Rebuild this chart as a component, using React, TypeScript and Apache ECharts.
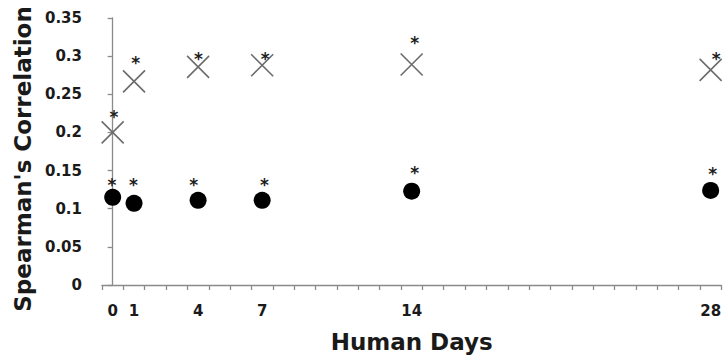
import React, { useEffect, useRef } from "react";
import * as echarts from "echarts";

// Category axis: every day from 0 to 28; only some of them carry a label
const dayCategories = [
  "0", "1", "2", "3", "4", "5", "6", "7", "8", "9", "10", "11", "12", "13", "14",
  "15", "16", "17", "18", "19", "20", "21", "22", "23", "24", "25", "26", "27", "28",
];
const labeledDays = ["0", "1", "4", "7", "14", "28"];

// Sampled days and the two series of correlations
const sampleDays = [0, 1, 4, 7, 14, 28];
const circleValues = [0.115, 0.107, 0.111, 0.111, 0.123, 0.124];
const crossValues = [0.2, 0.267, 0.286, 0.288, 0.289, 0.282];

// Significance asterisks (day position, correlation level)
const crossStarDays = [0.06, 1.08, 4.01, 7.14, 14.14, 28.26];
const crossStarValues = [0.226, 0.296, 0.302, 0.302, 0.322, 0.302];
const circleStarDays = [-0.03, 0.97, 3.79, 7.11, 14.14, 28.09];
const circleStarValues = [0.136, 0.136, 0.136, 0.136, 0.152, 0.151];

// Y axis range
const yMin = 0;
const yMax = 0.35;
const yStep = 0.05;

const FONT = "DejaVu Sans";
const AXIS_GRAY = "#8a8a8a";

export default function App() {
  const ref = useRef<HTMLDivElement>(null);

  useEffect(() => {
    if (!ref.current) return;
    const chart = echarts.init(ref.current, undefined, { renderer: "svg" });

    const pair = (xs: number[], ys: number[]) => xs.map((x, i) => [x, ys[i]]);

    const starLabel = {
      show: true,
      formatter: "*",
      position: "inside",
      offset: [0, 4],
      color: "#1e1e1e",
      opacity: 1,
      fontFamily: FONT,
      fontWeight: "bold",
      fontSize: 17,
    };

    chart.setOption({
      animation: false,
      backgroundColor: "#ffffff",
      grid: { left: 102, right: -2, top: 18, bottom: 75, containLabel: false },
      xAxis: [
        {
          type: "category",
          data: dayCategories,
          boundaryGap: true,
          axisLine: { show: true, lineStyle: { color: AXIS_GRAY, width: 1.3 } },
          axisTick: { show: true, interval: 0, length: 5, lineStyle: { color: AXIS_GRAY, width: 1.3 } },
          axisLabel: {
            interval: (_i: number, v: string) => labeledDays.includes(v),
            margin: 18,
            color: "#1a1a1a",
            fontFamily: FONT,
            fontWeight: "bold",
            fontSize: 15,
          },
          splitLine: { show: false },
          name: "Human Days",
          nameLocation: "middle",
          nameGap: 45,
          nameTextStyle: { color: "#1a1a1a", fontFamily: FONT, fontWeight: "bold", fontSize: 23 },
        },
        {
          type: "value",
          min: -0.5,
          max: 28.5,
          show: false,
          splitLine: { show: false },
        },
      ],
      yAxis: {
        type: "value",
        min: yMin,
        max: yMax,
        interval: yStep,
        axisLine: { show: true, lineStyle: { color: AXIS_GRAY, width: 1.3 } },
        axisTick: { show: true, length: 5, lineStyle: { color: AXIS_GRAY, width: 1.3 } },
        axisLabel: {
          margin: 20,
          color: "#1a1a1a",
          fontFamily: FONT,
          fontWeight: "bold",
          fontSize: 15,
        },
        splitLine: { show: false },
        name: "Spearman's Correlation",
        nameLocation: "middle",
        nameGap: 64,
        nameTextStyle: {
          color: "#1a1a1a",
          fontFamily: FONT,
          fontWeight: "bold",
          fontSize: 23,
          padding: [0, 15, 0, 0],
        },
      },
      series: [
        {
          name: "Circles",
          type: "scatter",
          xAxisIndex: 1,
          data: pair(sampleDays, circleValues),
          symbol: "circle",
          symbolSize: 17,
          itemStyle: { color: "#000000", opacity: 1 },
        },
        {
          name: "Crosses",
          type: "scatter",
          xAxisIndex: 1,
          data: pair(sampleDays, crossValues),
          symbol: "path://M0,0L20,20M20,0L0,20",
          symbolSize: 22,
          itemStyle: { color: "none", borderColor: "#6c6c6c", borderWidth: 1.6, opacity: 1 },
        },
        {
          name: "Cross significance",
          type: "scatter",
          xAxisIndex: 1,
          data: pair(crossStarDays, crossStarValues),
          symbol: "circle",
          symbolSize: 1,
          itemStyle: { color: "rgba(0,0,0,0)", opacity: 1 },
          label: starLabel,
        },
        {
          name: "Circle significance",
          type: "scatter",
          xAxisIndex: 1,
          data: pair(circleStarDays, circleStarValues),
          symbol: "circle",
          symbolSize: 1,
          itemStyle: { color: "rgba(0,0,0,0)", opacity: 1 },
          label: starLabel,
        },
      ],
    });

    return () => chart.dispose();
  }, []);

  return (
    <div
      ref={ref}
      style={{ position: "fixed", left: 0, top: 0, width: 724, height: 360, background: "#fff" }}
    />
  );
}
